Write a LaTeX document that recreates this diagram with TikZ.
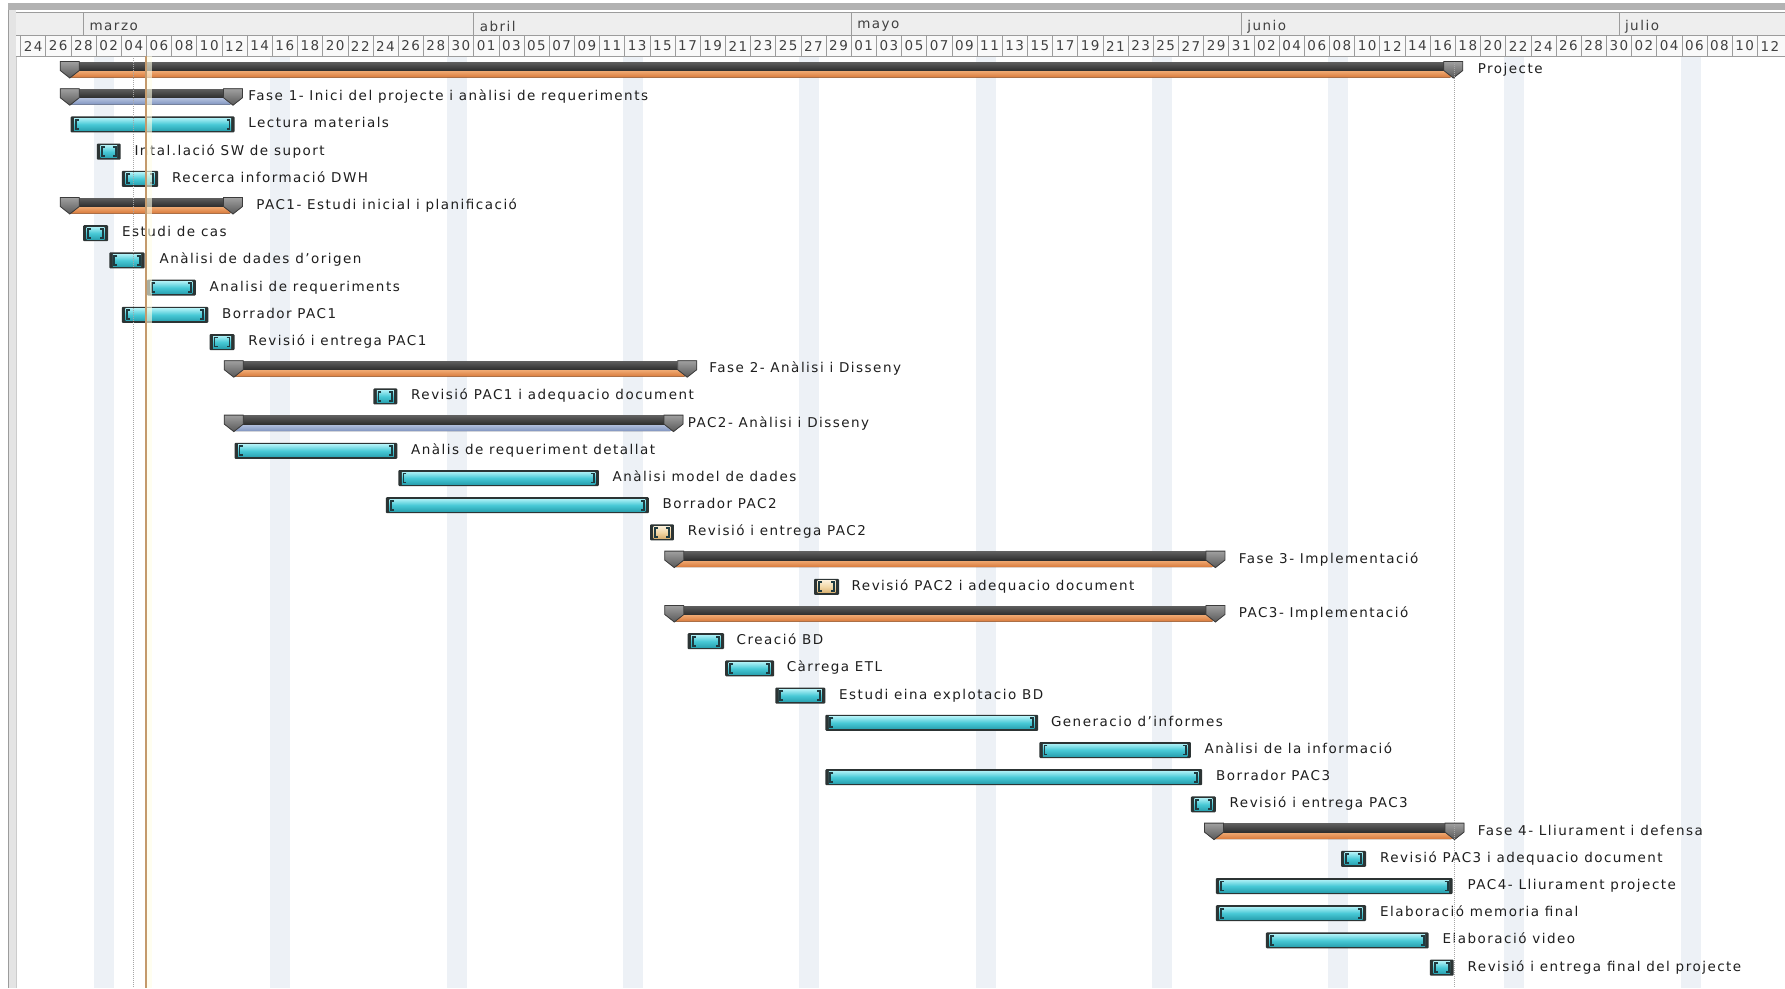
\documentclass[tikz,border=0pt]{standalone}
\usepackage{fontspec}
\setmainfont{DejaVu Sans}[LetterSpace=11]
% colours of the chart
\definecolor{ink}{HTML}{1E1E1E}
\definecolor{stripe}{HTML}{EDF1F6}
\definecolor{hdrbg}{HTML}{EEEEEE}
\definecolor{hdrline}{HTML}{9C9C9C}
\definecolor{frame}{HTML}{E4E4E4}
\definecolor{aquatop}{HTML}{A8EEF4}
\definecolor{aquamid}{HTML}{48C9D6}
\definecolor{aquabot}{HTML}{2AA3B2}
\definecolor{sandtop}{HTML}{FBEED6}
\definecolor{sandmid}{HTML}{F2D7A6}
\definecolor{sandbot}{HTML}{D9B070}
\definecolor{edgecol}{HTML}{2C3434}
\definecolor{brack}{HTML}{1F3B40}
\definecolor{sumtop}{HTML}{5E5E5E}
\definecolor{sumbot}{HTML}{2E2E2E}
\definecolor{orgtop}{HTML}{F3B07A}
\definecolor{orgbot}{HTML}{D8793A}
\definecolor{blgtop}{HTML}{BAC7E2}
\definecolor{blgbot}{HTML}{7F93BF}
\definecolor{captop}{HTML}{A0A0A0}
\definecolor{capbot}{HTML}{585858}
\definecolor{capedge}{HTML}{3C3C3C}
\definecolor{todayline}{HTML}{C49A6C}

% task bar: row, x1, x2, text x, fill prefix, label
\newcommand{\gtask}[6]{%
  \pgfmathsetmacro{\yc}{70+27.2*#1}
  \fill[edgecol, rounded corners=1] (#2,\yc-8) rectangle (#3,\yc+8);
  \fill[top color=#5top, bottom color=#5bot, middle color=#5mid] (#2+3.5,\yc-6) rectangle (#3-3.5,\yc+6);
  \draw[brack, line width=1.8] (#2+8,\yc-4.5) -- (#2+5,\yc-4.5) -- (#2+5,\yc+4.5) -- (#2+8,\yc+4.5);
  \draw[brack, line width=1.8] (#3-8,\yc-4.5) -- (#3-5,\yc-4.5) -- (#3-5,\yc+4.5) -- (#3-8,\yc+4.5);
  \node[lbl] (t#1) at (#4,\yc) {#6};
}
% end cap of a summary bar, left edge at x
\newcommand{\gcap}[2]{%
  \filldraw[top color=captop, bottom color=capbot, draw=capedge, line width=0.8]
    (#1,#2-8.5) -- ++(19,0) -- ++(0,9) -- ++(-9.5,7.5) -- ++(-9.5,-7.5) -- cycle;
}
% summary bar: row, x1, x2, text x, lower bar prefix, label
\newcommand{\gsum}[6]{%
  \pgfmathsetmacro{\yc}{70+27.2*#1}
  \fill[top color=#5top, bottom color=#5bot, rounded corners=2] (#2+9,\yc) rectangle (#3-11,\yc+7.5);
  \fill[top color=sumtop, bottom color=sumbot] (#2+9,\yc-8) rectangle (#3-9,\yc+0.5);
  \gcap{#2}{\yc}
  \gcap{#3-19}{\yc}
  \node[lbl] (t#1) at (#4,\yc) {#6};
}

\begin{document}
\begin{tikzpicture}[x=1pt, y=-1pt,
  lbl/.style={anchor=west, inner sep=0pt, text=ink, font=\fontsize{13.5}{14}\selectfont,
              text height=10pt, text depth=3pt},
  daylbl/.style={inner sep=0pt, text=ink!85, font=\fontsize{13.5}{14}\selectfont},
  monlbl/.style={anchor=west, inner sep=0pt, text=ink!85, font=\fontsize{13.5}{14}\selectfont}]
\useasboundingbox (0,0) rectangle (1785,988);
\fill[white] (0,0) rectangle (1785,988);

% alternate week shading
\foreach \k in {0,...,9}
  \fill[stripe] (94+176.3*\k,56) rectangle ++(20,932);

% window frame
\fill[frame] (8,4) rectangle (16,988);
\draw[hdrline] (8,4) -- (8,988);
\draw[gray!40] (16,12) -- (16,988);
\fill[gray!60] (8,3) rectangle (1785,10);

% timescale header
\fill[hdrbg] (16,12) rectangle (1785,35);
\fill[gray!5] (16,35) rectangle (1785,56);
\draw[hdrline] (16,12) -- (1785,12);
\draw[hdrline] (16,35) -- (1785,35);
\draw[hdrline] (16,56) -- (1785,56);
\foreach \mx/\mn in {83.4/marzo, 473.6/abril, 851.1/mayo, 1241.2/junio, 1618.8/julio}{
  \draw[hdrline] (\mx,12) -- (\mx,35);
  \node[monlbl] (m\mn) at (\mx+6,26.5) {\mn};
}
\foreach \d [count=\i from 0] in {24,26,28,
    02,04,06,08,10,12,14,16,18,20,22,24,26,28,30,
    01,03,05,07,09,11,13,15,17,19,21,23,25,27,29,
    01,03,05,07,09,11,13,15,17,19,21,23,25,27,29,31,
    02,04,06,08,10,12,14,16,18,20,22,24,26,28,30,
    02,04,06,08,10,12}{
  \draw[hdrline] (20.5+25.17*\i,35) -- (20.5+25.17*\i,56);
  \node[daylbl] (h\i) at (20.5+25.17*\i+12.6,46) {\d};
}

% summary bars
\gsum{0}{60.3}{1462.8}{1477.6}{org}{Projecte}
\gsum{1}{60.3}{242.5}{248.2}{blg}{Fase 1- Inici del projecte i anàlisi de requeriments}
\gsum{5}{60.3}{242.5}{256.1}{org}{PAC1- Estudi inicial i planificació}
\gsum{11}{224.3}{696.7}{709.2}{org}{Fase 2- Anàlisi i Disseny}
\gsum{13}{224.3}{683.0}{687.6}{blg}{PAC2- Anàlisi i Disseny}
\gsum{18}{664.8}{1224.9}{1238.6}{org}{Fase 3- Implementació}
\gsum{20}{664.8}{1224.9}{1238.6}{org}{PAC3- Implementació}
\gsum{28}{1204.5}{1464.0}{1477.6}{org}{Fase 4- Lliurament i defensa}

% task bars
\gtask{2}{70.6}{234.5}{248.2}{aqua}{Lectura materials}
\gtask{3}{96.8}{120.7}{134.3}{aqua}{Intal.lació SW de suport}
\gtask{4}{121.8}{158.2}{171.9}{aqua}{Recerca informació DWH}
\gtask{6}{83.1}{108.1}{121.8}{aqua}{Estudi de cas}
\gtask{7}{109.3}{144.6}{159.4}{aqua}{Anàlisi de dades d'origen}
\gtask{8}{146.9}{195.8}{209.5}{aqua}{Analisi de requeriments}
\gtask{9}{121.8}{208.3}{222.0}{aqua}{Borrador PAC1}
\gtask{10}{209.5}{234.5}{248.2}{aqua}{Revisió i entrega PAC1}
\gtask{12}{373.4}{397.3}{411.0}{aqua}{Revisió PAC1 i adequacio document}
\gtask{14}{234.5}{397.3}{411.0}{aqua}{Anàlis de requeriment detallat}
\gtask{15}{398.4}{598.8}{612.5}{aqua}{Anàlisi model de dades}
\gtask{16}{385.9}{648.9}{662.5}{aqua}{Borrador PAC2}
\gtask{17}{650.0}{673.9}{687.6}{sand}{Revisió i entrega PAC2}
\gtask{19}{814.0}{839.0}{851.5}{sand}{Revisió PAC2 i adequacio document}
\gtask{21}{687.6}{724.0}{736.5}{aqua}{Creació BD}
\gtask{22}{725.2}{774.1}{786.6}{aqua}{Càrrega ETL}
\gtask{23}{775.3}{825.3}{839.0}{aqua}{Estudi eina explotacio BD}
\gtask{24}{825.3}{1038.2}{1050.8}{aqua}{Generacio d'informes}
\gtask{25}{1039.4}{1190.9}{1204.5}{aqua}{Anàlisi de la informació}
\gtask{26}{825.3}{1202.2}{1216.0}{aqua}{Borrador PAC3}
\gtask{27}{1190.9}{1215.8}{1229.5}{aqua}{Revisió i entrega PAC3}
\gtask{29}{1341.0}{1366.0}{1379.8}{aqua}{Revisió PAC3 i adequacio document}
\gtask{30}{1215.8}{1452.6}{1467.5}{aqua}{PAC4- Lliurament projecte}
\gtask{31}{1215.8}{1366.0}{1379.8}{aqua}{Elaboració memoria final}
\gtask{32}{1265.9}{1428.6}{1442.3}{aqua}{Elaboració video}
\gtask{33}{1429.8}{1453.7}{1467.5}{aqua}{Revisió i entrega final del projecte}

% status date and project end markers
\coordinate (statustop) at (133,56);
\coordinate (statusbot) at (133,988);
\draw[gray!70, densely dotted, line width=1] (statustop) -- (statusbot);
\fill[yellow!10, opacity=0.6] (147,56) rectangle (152,988);
\coordinate (todaytop) at (146,56);
\coordinate (todaybot) at (146,988);
\draw[todayline, line width=1.2] (todaytop) -- (todaybot);
\coordinate (endtop) at (1454,62);
\coordinate (endbot) at (1454,988);
\draw[gray!70, densely dotted, line width=1] (endtop) -- (endbot);
\end{tikzpicture}
\end{document}
